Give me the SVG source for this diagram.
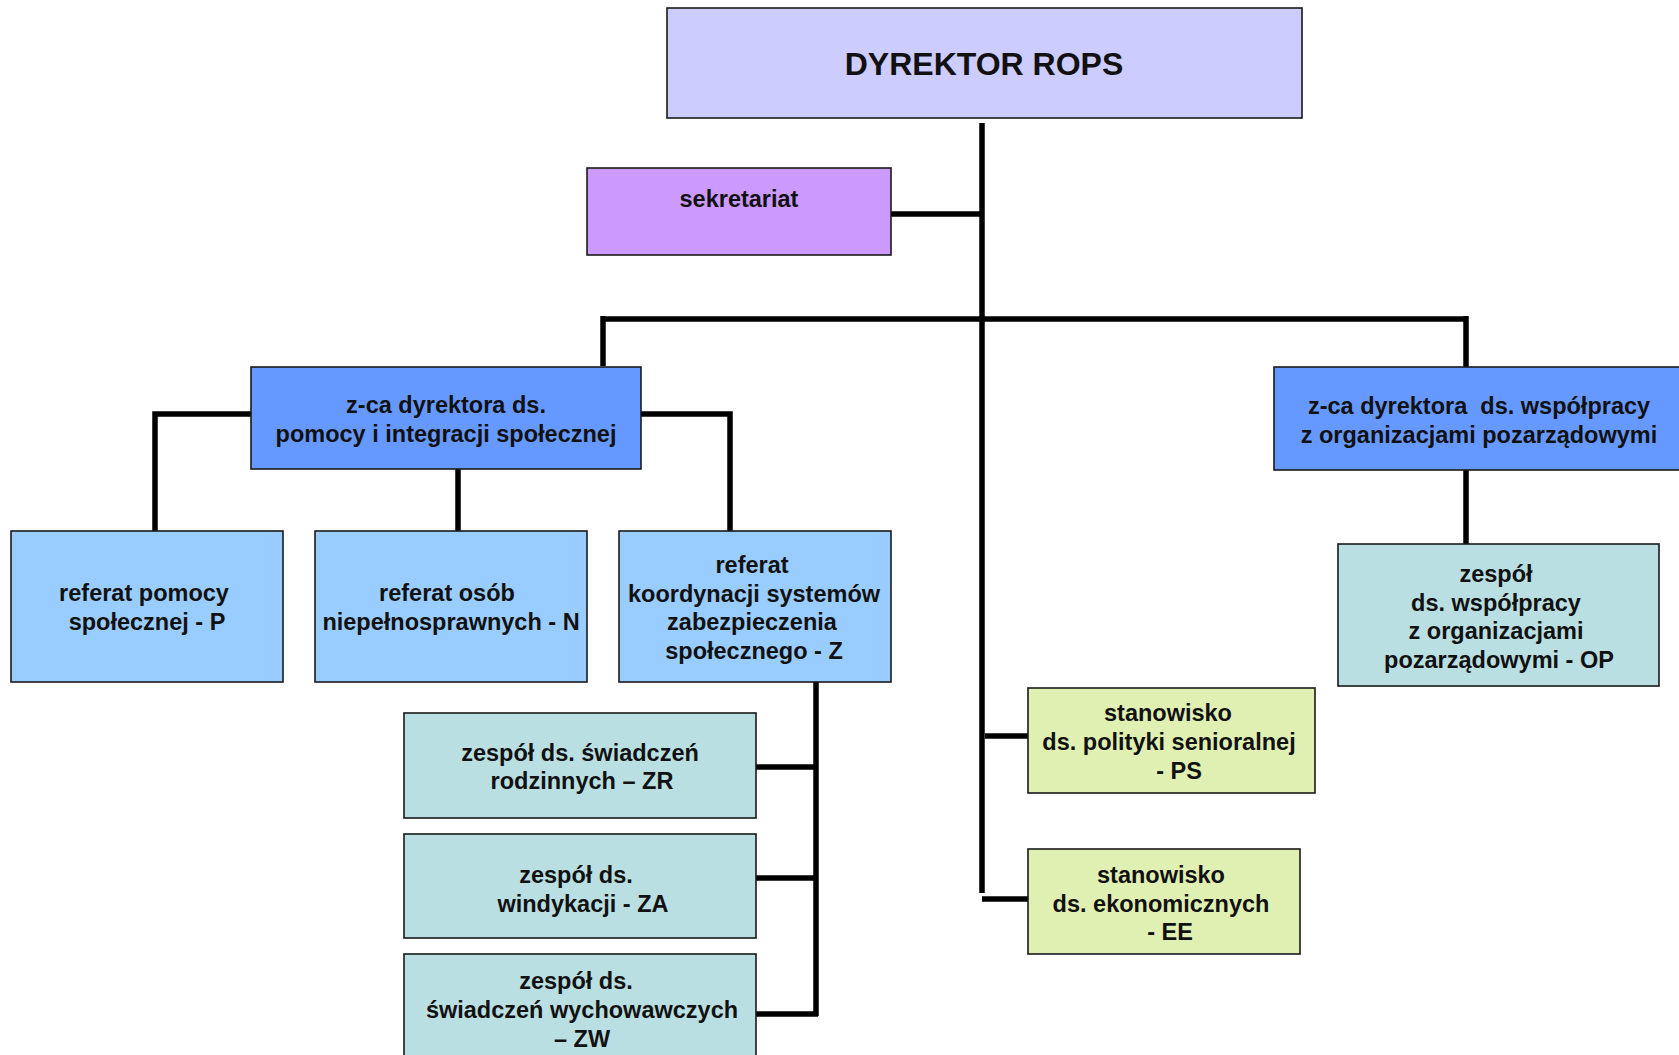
<svg xmlns="http://www.w3.org/2000/svg" width="1679" height="1055" viewBox="0 0 1679 1055">
<style>
.box{stroke:#1a1a1a;stroke-width:1.6}
.t{font-family:"Liberation Sans",Arial,sans-serif;font-weight:bold;font-size:23.5px;fill:#111;text-anchor:middle}
.big{font-size:32px}
.c{stroke:#000;stroke-width:5.5;fill:none}
</style>
<rect width="1679" height="1055" fill="#fff"/>
<g id="connectors">
<line class="c" x1="982" y1="123" x2="982" y2="893"/>
<line class="c" x1="891" y1="214" x2="984" y2="214"/>
<line class="c" x1="603" y1="319" x2="1466" y2="319"/>
<line class="c" x1="603" y1="316" x2="603" y2="366"/>
<line class="c" x1="1466" y1="316" x2="1466" y2="367"/>
<polyline class="c" points="251,414 155,414 155,536"/>
<line class="c" x1="458" y1="469" x2="458" y2="531"/>
<polyline class="c" points="641,414 730,414 730,531"/>
<line class="c" x1="1466" y1="470" x2="1466" y2="544"/>
<line class="c" x1="816" y1="682" x2="816" y2="1016"/>
<line class="c" x1="756" y1="767" x2="818" y2="767"/>
<line class="c" x1="756" y1="878" x2="818" y2="878"/>
<line class="c" x1="756" y1="1014" x2="818" y2="1014"/>
<line class="c" x1="985" y1="736" x2="1028" y2="736"/>
<line class="c" x1="982" y1="899" x2="1028" y2="899"/>
</g>
<g id="dyrektor">
<rect class="box" x="667" y="8" width="635" height="110" fill="#CCCCFF"/>
<text class="t big" x="984" y="75">DYREKTOR ROPS</text>
</g>
<g id="sekretariat">
<rect class="box" x="587" y="168" width="304" height="87" fill="#CC99FF"/>
<text class="t" x="739" y="207">sekretariat</text>
</g>
<g id="zca-pomocy">
<rect class="box" x="251" y="367" width="390" height="102" fill="#6699FF"/>
<text class="t" x="446" y="413">z-ca dyrektora ds.</text>
<text class="t" x="446" y="442">pomocy i integracji społecznej</text>
</g>
<g id="zca-wspolpracy">
<rect class="box" x="1274" y="367" width="420" height="103" fill="#6699FF"/>
<text class="t" x="1479" y="414" xml:space="preserve">z-ca dyrektora  ds. współpracy</text>
<text class="t" x="1479" y="443">z organizacjami pozarządowymi</text>
</g>
<g id="referat-P">
<rect class="box" x="11" y="531" width="272" height="151" fill="#99CCFF"/>
<text class="t" x="144" y="601">referat pomocy</text>
<text class="t" x="147" y="630">społecznej - P</text>
</g>
<g id="referat-N">
<rect class="box" x="315" y="531" width="272" height="151" fill="#99CCFF"/>
<text class="t" x="447" y="601">referat osób</text>
<text class="t" x="451" y="630">niepełnosprawnych - N</text>
</g>
<g id="referat-Z">
<rect class="box" x="619" y="531" width="272" height="151" fill="#99CCFF"/>
<text class="t" x="752" y="573">referat</text>
<text class="t" x="754" y="602">koordynacji systemów</text>
<text class="t" x="752" y="630">zabezpieczenia</text>
<text class="t" x="754" y="659">społecznego - Z</text>
</g>
<g id="zespol-ZR">
<rect class="box" x="404" y="713" width="352" height="105" fill="#B9DFE2"/>
<text class="t" x="580" y="761">zespół ds. świadczeń</text>
<text class="t" x="582" y="789">rodzinnych – ZR</text>
</g>
<g id="zespol-ZA">
<rect class="box" x="404" y="834" width="352" height="104" fill="#B9DFE2"/>
<text class="t" x="576" y="883">zespół ds.</text>
<text class="t" x="583" y="912">windykacji - ZA</text>
</g>
<g id="zespol-ZW">
<rect class="box" x="404" y="954" width="352" height="110" fill="#B9DFE2"/>
<text class="t" x="576" y="989">zespół ds.</text>
<text class="t" x="582" y="1018">świadczeń wychowawczych</text>
<text class="t" x="582" y="1047">– ZW</text>
</g>
<g id="zespol-OP">
<rect class="box" x="1338" y="544" width="321" height="142" fill="#B9DFE2"/>
<text class="t" x="1496" y="582">zespół</text>
<text class="t" x="1496" y="611">ds. współpracy</text>
<text class="t" x="1496" y="639">z organizacjami</text>
<text class="t" x="1499" y="668">pozarządowymi - OP</text>
</g>
<g id="stanowisko-PS">
<rect class="box" x="1028" y="688" width="287" height="105" fill="#E0F0B2"/>
<text class="t" x="1168" y="721">stanowisko</text>
<text class="t" x="1169" y="750">ds. polityki senioralnej</text>
<text class="t" x="1179" y="779">- PS</text>
</g>
<g id="stanowisko-EE">
<rect class="box" x="1028" y="849" width="272" height="105" fill="#E0F0B2"/>
<text class="t" x="1161" y="883">stanowisko</text>
<text class="t" x="1161" y="912">ds. ekonomicznych</text>
<text class="t" x="1170" y="940">- EE</text>
</g>
</svg>
